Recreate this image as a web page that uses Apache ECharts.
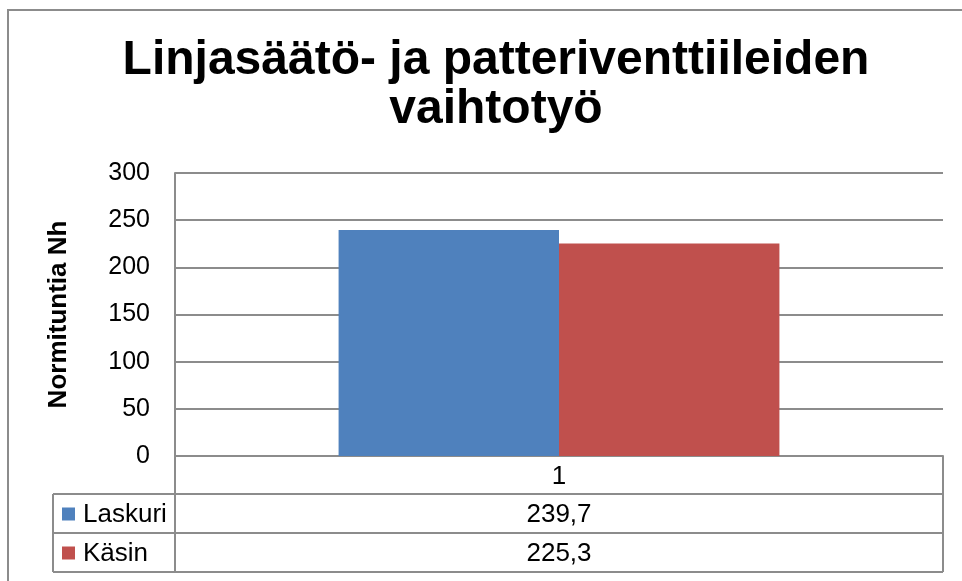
<!DOCTYPE html>
<html>
<head>
<meta charset="utf-8">
<script src="https://cdn.jsdelivr.net/npm/echarts@6/dist/echarts.min.js"></script>
<style>html,body{margin:0;padding:0;background:#fff;}#c{width:962px;height:581px;}</style>
</head>
<body>
<div id="c"></div>
<script>
const titleLines = ['Linjasäätö- ja patteriventtiileiden', 'vaihtotyö'];
const yAxisName = 'Normituntia Nh';
const categories = ['1'];
const seriesNames = ['Laskuri', 'Käsin'];
const laskuri = [239.7];
const kasin = [225.3];
const seriesColors = ['#4F81BD', '#C0504D'];
const yMin = 0, yMax = 300, yStep = 50;

const fmt = v => String(v).replace('.', ',');
const FONT = 'Liberation Sans, Arial, sans-serif';
const LINE = '#8c8c8c';

const G = {left: 175, right: 943, top: 173, bottom: 456};
const tblLeft = 53;
const rowY = [456, 494, 533, 572];

const chart = echarts.init(document.getElementById('c'), null, {renderer: 'canvas'});

const graphics = [];
// outer chart border
graphics.push({type: 'rect', shape: {x: 8, y: 10, width: 1100, height: 1100}, style: {fill: 'none', stroke: LINE, lineWidth: 2}, silent: true, z: 0});
// table horizontal lines
for (let i = 1; i < rowY.length; i++) {
  graphics.push({type: 'line', shape: {x1: tblLeft, y1: rowY[i], x2: G.right, y2: rowY[i]}, style: {stroke: LINE, lineWidth: 2}, z: 10});
}
// vertical lines
graphics.push({type: 'line', shape: {x1: tblLeft, y1: rowY[1], x2: tblLeft, y2: rowY[3]}, style: {stroke: LINE, lineWidth: 2}, z: 10});
graphics.push({type: 'line', shape: {x1: G.left, y1: rowY[0], x2: G.left, y2: rowY[3]}, style: {stroke: LINE, lineWidth: 2}, z: 10});
graphics.push({type: 'line', shape: {x1: G.right, y1: rowY[0], x2: G.right, y2: rowY[3]}, style: {stroke: LINE, lineWidth: 2}, z: 10});
// series rows
const allVals = [laskuri, kasin];
seriesNames.forEach((name, i) => {
  const cy = (rowY[i + 1] + rowY[i + 2]) / 2 + 1;
  graphics.push({type: 'rect', shape: {x: 62, y: cy - 7, width: 13, height: 13}, style: {fill: seriesColors[i]}, z: 10});
  graphics.push({type: 'text', x: 83, y: cy, style: {text: name, font: '26px ' + FONT, fill: '#000', verticalAlign: 'middle', textAlign: 'left'}, z: 10});
  categories.forEach((c, j) => {
    const cw = (G.right - G.left) / categories.length;
    graphics.push({type: 'text', x: G.left + cw * (j + 0.5), y: cy, style: {text: fmt(allVals[i][j]), font: '26px ' + FONT, fill: '#000', verticalAlign: 'middle', textAlign: 'center'}, z: 10});
  });
});

chart.setOption({
  animation: false,
  backgroundColor: '#fff',
  title: {
    text: titleLines.join('\n'),
    left: 491, top: 31, textAlign: 'center',
    textStyle: {fontFamily: FONT, fontSize: 48, fontWeight: 'bold', color: '#000', lineHeight: 49}
  },
  grid: {left: G.left, right: 962 - G.right, top: G.top, bottom: 581 - G.bottom, containLabel: false},
  xAxis: {
    type: 'category', data: categories,
    axisLine: {lineStyle: {color: LINE, width: 2}},
    axisTick: {show: false},
    axisLabel: {fontFamily: FONT, fontSize: 26, color: '#000', margin: 8}
  },
  yAxis: {
    type: 'value', min: yMin, max: yMax, interval: yStep,
    name: yAxisName, nameLocation: 'middle', nameGap: 103, nameRotate: 90,
    nameTextStyle: {fontFamily: FONT, fontSize: 26, fontWeight: 'bold', color: '#000'},
    axisLine: {show: true, lineStyle: {color: LINE, width: 2}},
    axisTick: {show: false},
    axisLabel: {fontFamily: FONT, fontSize: 25, color: '#000', margin: 25},
    splitLine: {lineStyle: {color: LINE, width: 2}}
  },
  series: [
    {name: seriesNames[0], type: 'bar', data: laskuri, itemStyle: {color: seriesColors[0]}, barGap: '0%', barCategoryGap: '42.6%'},
    {name: seriesNames[1], type: 'bar', data: kasin, itemStyle: {color: seriesColors[1]}, barGap: '0%', barCategoryGap: '42.6%'}
  ],
  graphic: graphics
});
</script>
</body>
</html>
